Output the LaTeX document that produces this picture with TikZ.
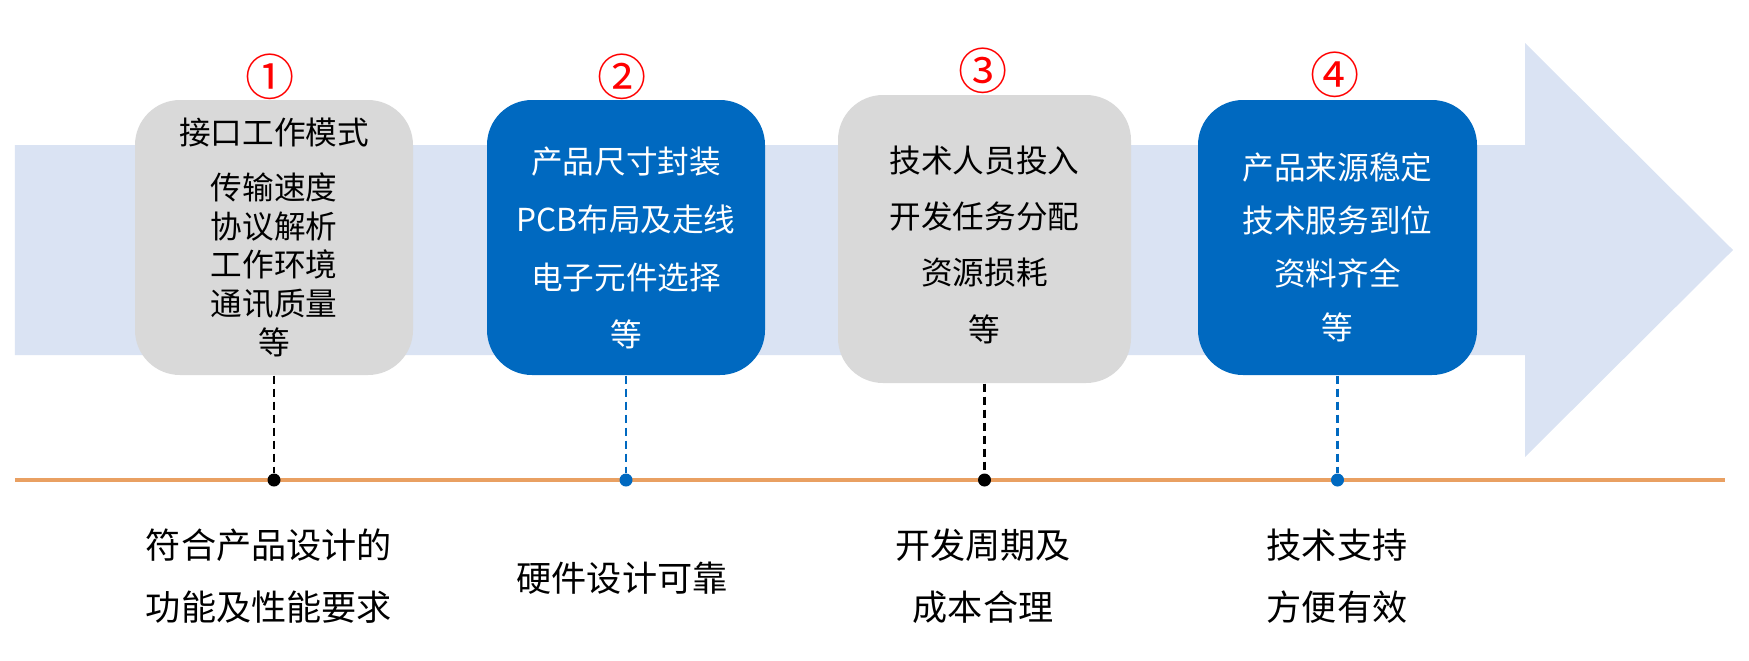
\documentclass[tikz,border=0pt]{standalone}
\usepackage{fontspec}
\setmainfont{Noto Sans CJK SC}
\usetikzlibrary{positioning}
\definecolor{bandblue}{HTML}{DAE3F3}
\definecolor{boxgray}{HTML}{D9D9D9}
\definecolor{boxblue}{HTML}{0069C0}
\definecolor{lineorange}{HTML}{E9A062}
\definecolor{numred}{HTML}{FF0000}
\newcommand{\topstrut}[1]{\rule{0pt}{#1}}
\begin{document}
\begin{tikzpicture}[
    card/.style={rounded corners=0.45cm, minimum width=2.78cm, minimum height=2.75cm, align=center, inner sep=0pt, font=\fontsize{9}{16}\selectfont},
    graycard/.style={card, fill=boxgray, text=black},
    bluecard/.style={card, fill=boxblue, text=white},
    stepnum/.style={text=numred, inner sep=0pt, font=\fontsize{14}{14}\selectfont},
    dot/.style={circle, inner sep=0pt, minimum size=0.13cm},
    link/.style={dash pattern=on 0.08cm off 0.05cm, line width=0.7pt},
    goal/.style={align=center, font=\fontsize{10}{17.6}\selectfont}
  ]
  \useasboundingbox (0,0) rectangle (17.49,6.6);
  % band with arrow head
  \fill[bandblue] (0.15,3.05) -- (15.25,3.05) -- (15.25,2.03) -- (17.33,4.10)
    -- (15.25,6.17) -- (15.25,5.15) -- (0.15,5.15) -- cycle;
  % time line
  \draw[lineorange, line width=0.9pt] (0.15,1.8) -- (17.25,1.8);
  \coordinate (tl) at (0,1.8);

  \node[graycard, font=\fontsize{9}{11}\selectfont] (b1) at (2.74,4.225)
    {接口工作模式\\[4.5pt]传输速度\\协议解析\\工作环境\\通讯质量\\等};
  \node[bluecard, font=\fontsize{9}{16.4}\selectfont] (b2) at (6.26,4.225)
    {\topstrut{0.48cm}产品尺寸封装\\PCB布局及走线\\电子元件选择\\等};
  \node[graycard, minimum width=2.93cm, minimum height=2.88cm] (b3) at (9.845,4.21)
    {\topstrut{0.38cm}技术人员投入\\开发任务分配\\资源损耗\\等};
  \node[bluecard, minimum width=2.79cm, font=\fontsize{9}{15.2}\selectfont] (b4) at (13.375,4.225)
    {\topstrut{0.46cm}产品来源稳定\\技术服务到位\\资料齐全\\等};

  \node[stepnum] (n1) at (2.70,5.83) {①};
  \node[stepnum] (n2) at (6.22,5.83) {②};
  \node[stepnum] (n3) at (9.83,5.89) {③};
  \node[stepnum] (n4) at (13.35,5.85) {④};

  \node[dot, fill=black] (d1) at (b1 |- tl) {};
  \node[dot, fill=boxblue] (d2) at (b2 |- tl) {};
  \node[dot, fill=black] (d3) at (b3 |- tl) {};
  \node[dot, fill=boxblue] (d4) at (b4 |- tl) {};

  \draw[link, black] (b1) -- (d1);
  \draw[link, boxblue] (b2) -- (d2);
  \draw[link, black] (b3) -- (d3);
  \draw[link, boxblue] (b4) -- (d4);

  \node[goal] (g1) at (2.69,0.84) {符合产品设计的\\功能及性能要求};
  \node[goal] (g2) at (6.22,0.82) {硬件设计可靠};
  \node[goal] (g3) at (9.83,0.84) {开发周期及\\成本合理};
  \node[goal] (g4) at (13.37,0.84) {技术支持\\方便有效};
\end{tikzpicture}
\end{document}
